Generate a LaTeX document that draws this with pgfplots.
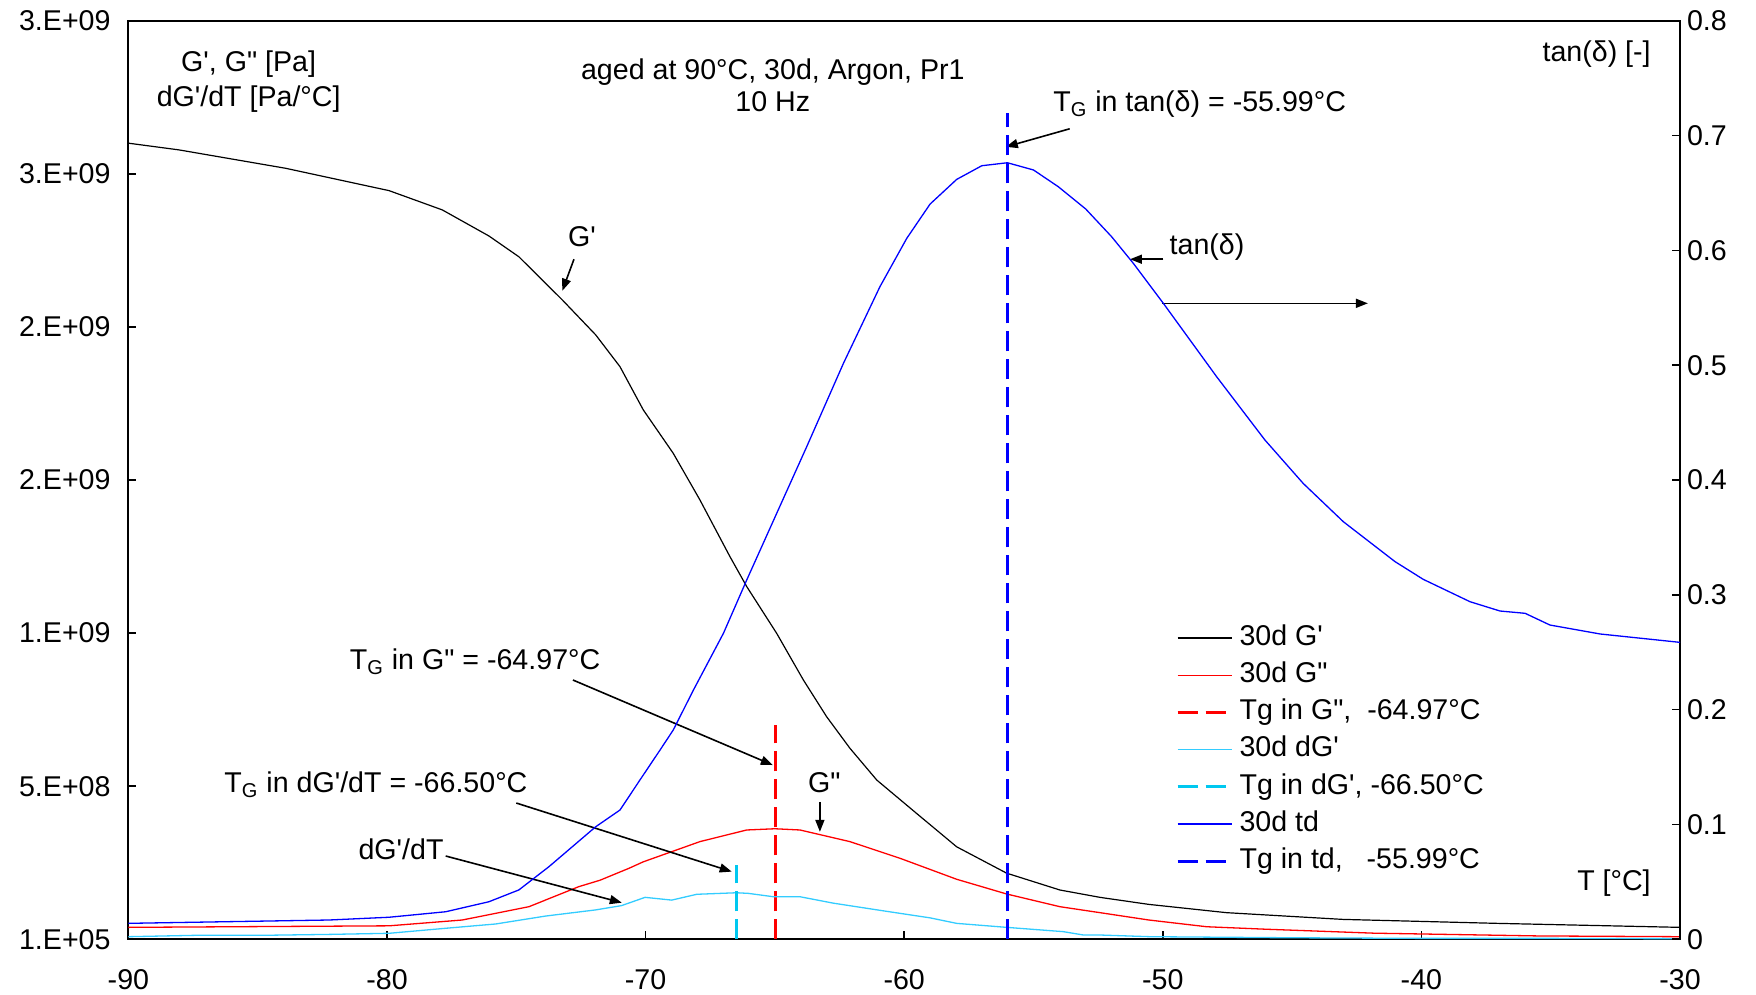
\documentclass[border=0pt]{standalone}
\usepackage{fontspec}
\setmainfont{Liberation Sans}[Ligatures=TeXOff]
\usepackage{pgfplots}
\pgfplotsset{compat=1.18}
\usetikzlibrary{arrows.meta}
\definecolor{dgcol}{RGB}{51,204,255}
\definecolor{dgdash}{RGB}{0,200,240}
\begin{document}
\begin{tikzpicture}[font=\fontsize{14.3pt}{17pt}\selectfont,
  arr/.style={line width=0.8pt,-{Triangle[length=6pt,width=4.5pt]}},
  lab/.style={inner sep=0pt}]
\path[use as bounding box] (-64.2pt,-27.85pt) rectangle (813.8pt,469.65pt);
\begin{axis}[
  at={(0,0)}, anchor=south west,
  scale only axis, width=775.8pt, height=459.3pt,
  xmin=-90, xmax=-30, ymin=0, ymax=30,
  xtick={-90,-80,-70,-60,-50,-40,-30},
  xticklabels={-90,-80,-70,-60,-50,-40,-30},
  ytick={0,5,10,15,20,25,30},
  yticklabels={1.E+05,5.E+08,1.E+09,2.E+09,2.E+09,3.E+09,3.E+09},
  xtick pos=bottom, ytick pos=left, tick align=inside,
  major tick length=4pt,
  axis line style={line width=1pt},
  every tick/.style={black, line width=0.8pt},
  xticklabel style={yshift=-11.7pt},
  yticklabel style={xshift=-5.4pt},
  clip=false,
]
% G'
\addplot[black, line width=0.6pt] coordinates {(-90,26.0) (-88.04,25.78) (-83.92,25.18) (-79.92,24.45) (-77.86,23.82) (-76.06,22.97) (-74.9,22.29) (-73.22,20.88) (-71.93,19.74) (-70.99,18.70) (-70.09,17.29) (-68.93,15.87) (-67.9,14.35) (-66.74,12.50) (-66.09,11.52) (-64.93,9.99) (-63.9,8.47) (-63.0,7.27) (-62.1,6.24) (-61.06,5.20) (-59.52,4.11) (-57.97,3.02) (-56.04,2.16) (-53.98,1.61) (-52.43,1.37) (-50.54,1.14) (-47.54,0.87) (-43.04,0.65) (-37.05,0.52) (-30,0.39)};
% G''
\addplot[red, line width=0.65pt] coordinates {(-90,0.39) (-79.92,0.44) (-77.09,0.63) (-74.51,1.065) (-72.58,1.72) (-71.76,1.93) (-70.64,2.32) (-70.09,2.53) (-67.9,3.19) (-66.09,3.57) (-65.0,3.61) (-64.03,3.57) (-62.1,3.19) (-60.16,2.645) (-57.97,1.96) (-56.04,1.48) (-53.98,1.065) (-52.43,0.87) (-50.54,0.63) (-48.3,0.41) (-46.04,0.33) (-41.84,0.20) (-35.5,0.11) (-30,0.085)};
% Tg in G''
\addplot[red, line width=1.5pt, dash pattern=on 10pt off 4pt] coordinates {(-64.97,0) (-64.97,7.0)};
% dG'
\addplot[dgcol, line width=0.65pt] coordinates {(-90,0.085) (-87.4,0.13) (-84.82,0.13) (-82.24,0.16) (-79.92,0.196) (-77.73,0.36) (-75.8,0.50) (-73.86,0.76) (-71.93,0.96) (-70.93,1.10) (-70.02,1.37) (-68.99,1.28) (-68.02,1.47) (-66.48,1.52) (-66.03,1.50) (-65.06,1.39) (-64.03,1.39) (-62.74,1.18) (-60.81,0.93) (-59.0,0.70) (-57.97,0.52) (-56.04,0.39) (-53.85,0.25) (-53.07,0.14) (-52.43,0.14) (-50.5,0.085) (-45,0.05) (-40,0.03) (-35,0.03) (-30,0.02)};
% Tg in dG'
\addplot[dgdash, line width=1.5pt, dash pattern=on 10pt off 4pt] coordinates {(-66.50,0) (-66.50,2.43)};
% annotations
\node[lab, anchor=base] at (axis cs:-85.35,28.33) {G', G" [Pa]};
\node[lab, anchor=base] at (axis cs:-85.35,27.20) {dG'/dT [Pa/°C]};
\node[lab, anchor=base] at (axis cs:-65.08,28.08) {aged at 90°C, 30d, Argon, Pr1};
\node[lab, anchor=base] at (axis cs:-65.08,27.02) {10 Hz};
\node[lab, anchor=base east] at (axis cs:-31.12,28.66) {tan(δ) [-]};
\node[lab, anchor=base west] at (axis cs:-54.25,27.02) {T\textsubscript{G} in tan(δ) = -55.99°C};
\draw[arr] (axis cs:-53.60,26.47) -- (axis cs:-56.07,25.88);
\node[lab, anchor=base] at (axis cs:-72.46,22.62) {G'};
\draw[arr] (axis cs:-72.77,22.21) -- (axis cs:-73.22,21.18);
\node[lab, anchor=base west] at (axis cs:-49.75,22.38) {tan(δ)};
\draw[arr] (axis cs:-49.98,22.21) -- (axis cs:-51.27,22.21);
\draw[arr] (axis cs:-50.04,20.77) -- (axis cs:-42.07,20.77);
\node[lab, anchor=base west] at (axis cs:-81.45,8.80) {T\textsubscript{G} in G" = -64.97°C};
\draw[arr] (axis cs:-72.81,8.468) -- (axis cs:-65.08,5.69);
\node[lab, anchor=base west] at (axis cs:-86.30,4.78) {T\textsubscript{G} in dG'/dT = -66.50°C};
\draw[arr] (axis cs:-75.0,4.45) -- (axis cs:-66.67,2.21);
\node[lab, anchor=base east] at (axis cs:-77.80,2.59) {dG'/dT};
\draw[arr] (axis cs:-77.73,2.72) -- (axis cs:-70.92,1.195);
\node[lab, anchor=base] at (axis cs:-63.09,4.78) {G"};
\draw[arr] (axis cs:-63.26,4.49) -- (axis cs:-63.26,3.51);
\node[lab, anchor=base east] at (axis cs:-31.12,1.60) {T [°C]};
\end{axis}
\begin{axis}[
  at={(0,0)}, anchor=south west,
  scale only axis, width=775.8pt, height=459.3pt,
  xmin=-90, xmax=-30, ymin=0, ymax=0.8,
  axis y line*=right, axis x line=none,
  ytick={0,0.1,0.2,0.3,0.4,0.5,0.6,0.7,0.8},
  yticklabels={0,0.1,0.2,0.3,0.4,0.5,0.6,0.7,0.8},
  tick align=inside, major tick length=4pt,
  axis line style={line width=1pt},
  every tick/.style={black, line width=0.8pt},
  clip=false,
  legend style={at={(0.675,0.345)}, anchor=north west, draw=none, fill=none,
    inner sep=0pt, row sep=3.3pt,
    nodes={inner ysep=1pt, inner xsep=3.2pt, text height=10.3pt, text depth=3pt}},
  legend cell align=left,
  legend image code/.code={\draw[#1] (0pt,0pt) -- (27pt,0pt);},
]
\addlegendimage{black, line width=0.6pt}
\addlegendentry{30d G'}
\addlegendimage{red, line width=0.65pt}
\addlegendentry{30d G"}
\addlegendimage{red, line width=1.5pt, dash pattern=on 10pt off 4pt}
\addlegendentry{Tg in G",\ \ -64.97°C}
\addlegendimage{dgcol, line width=0.65pt}
\addlegendentry{30d dG'}
\addlegendimage{dgdash, line width=1.5pt, dash pattern=on 10pt off 4pt}
\addlegendentry{Tg in dG', -66.50°C}
\addplot[blue, line width=0.65pt] coordinates {(-90,0.0139) (-82.24,0.0168) (-79.92,0.0192) (-77.73,0.024) (-76.06,0.0327) (-74.9,0.043) (-73.74,0.0632) (-71.93,0.098) (-70.99,0.1126) (-70.22,0.1387) (-69.44,0.1649) (-68.93,0.1823) (-68.15,0.2171) (-66.99,0.2665) (-66.09,0.3129) (-64.93,0.371) (-63.77,0.429) (-62.35,0.5016) (-60.94,0.5683) (-59.9,0.6105) (-59.0,0.6403) (-57.97,0.6618) (-57.0,0.6737) (-56.01,0.6763) (-55.0,0.670) (-54.04,0.6554) (-52.98,0.636) (-51.98,0.6119) (-51.14,0.5887) (-49.98,0.5539) (-47.92,0.490) (-46.05,0.4348) (-44.57,0.397) (-43.02,0.3637) (-41.02,0.3289) (-39.93,0.3135) (-38.12,0.294) (-36.96,0.2859) (-35.99,0.2839) (-35.03,0.2737) (-33.09,0.2659) (-30,0.2586)};
\addlegendentry{30d td}
\addplot[blue, line width=1.5pt, dash pattern=on 10pt off 4pt] coordinates {(-55.99,0) (-55.99,0.72)};
\addlegendentry{Tg in td,\ \ \ -55.99°C}
\end{axis}
\end{tikzpicture}
\end{document}
